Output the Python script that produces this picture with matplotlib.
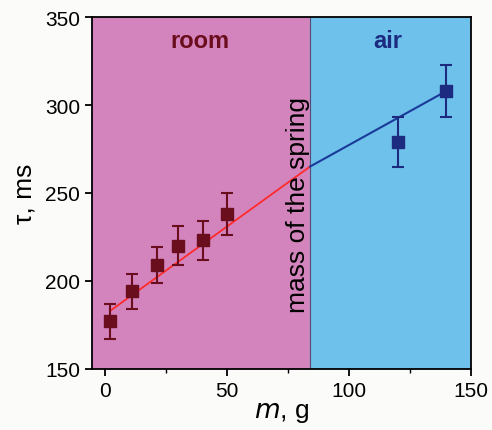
import matplotlib.pyplot as plt

plt.rcParams['font.family'] = ['Liberation Sans', 'DejaVu Sans']

# measured points
room_m = [2, 11, 21, 30, 40, 50]
room_tau = [177, 194, 209, 220, 223, 238]
room_err = [10, 10, 10, 11, 11, 12]
air_m = [120, 140]
air_tau = [279, 308]
air_err = [14, 15]

# fit lines (end points)
room_fit_m = [2, 84]
room_fit_tau = [183, 265]
air_fit_m = [84, 140]
air_fit_tau = [265, 308]

m_spring = 84

fig = plt.figure(figsize=(4.92, 4.31), dpi=100)
fig.patch.set_facecolor('#fbfbf9')
ax = fig.add_axes([0.187, 0.142, 0.770, 0.816])

ax.axvspan(-10, m_spring, color='#d384bd', zorder=0)
ax.axvspan(m_spring, 160, color='#6ec1ea', zorder=0)
ax.axvline(m_spring, color='#5a4a70', lw=0.8, zorder=1)

ax.plot(room_fit_m, room_fit_tau, color='#ff2a2a', lw=1.3, zorder=2)
ax.plot(air_fit_m, air_fit_tau, color='#1a3a9a', lw=1.5, zorder=2)

ax.errorbar(room_m, room_tau, yerr=room_err, fmt='s', color='#6a0d1c',
            ms=9, capsize=4, elinewidth=1.5, capthick=1.5, zorder=3)
ax.errorbar(air_m, air_tau, yerr=air_err, fmt='s', color='#1c2a80',
            ms=9, capsize=4, elinewidth=1.5, capthick=1.5, zorder=3)

ax.text(39, 343, 'room', color='#6a0d1c', fontsize=17, fontweight='bold',
        ha='center', va='top')
ax.text(116, 343, 'air', color='#1c2a80', fontsize=17, fontweight='bold',
        ha='center', va='top')
ax.text(79, 244, 'mass of the spring', rotation=90, fontsize=19,
        ha='center', va='center')

ax.set_xlim(-5.5, 150)
ax.set_ylim(150, 350)
ax.set_xticks([0, 50, 100, 150])
ax.set_xticks([25, 75, 125], minor=True)
ax.set_yticks([150, 200, 250, 300, 350])
ax.tick_params(labelsize=15, width=1.3, length=5)
ax.tick_params(which='minor', width=1.0, length=3)
for s in ax.spines.values():
    s.set_linewidth(1.3)

ax.set_xlabel('$m$, g', fontsize=19, labelpad=0)
ax.set_ylabel('τ, ms', fontsize=19, labelpad=6)

fig.savefig('out.png', dpi=100, facecolor=fig.get_facecolor())
